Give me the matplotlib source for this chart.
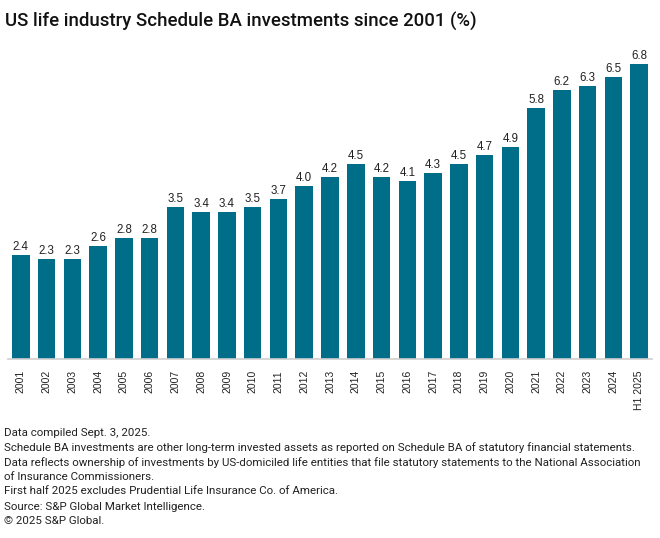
import matplotlib
matplotlib.use("Agg")
import matplotlib.pyplot as plt

years = ["2001", "2002", "2003", "2004", "2005", "2006", "2007", "2008", "2009",
         "2010", "2011", "2012", "2013", "2014", "2015", "2016", "2017", "2018",
         "2019", "2020", "2021", "2022", "2023", "2024", "H1 2025"]
values = [2.4, 2.3, 2.3, 2.6, 2.8, 2.8, 3.5, 3.4, 3.4, 3.5, 3.7, 4.0, 4.2, 4.5,
          4.2, 4.1, 4.3, 4.5, 4.7, 4.9, 5.8, 6.2, 6.3, 6.5, 6.8]

title = "US life industry Schedule BA investments since 2001 (%)"
notes = [
    "Data compiled Sept. 3, 2025.",
    "Schedule BA investments are other long-term invested assets as reported on Schedule BA of statutory financial statements.",
    "Data reflects ownership of investments by US-domiciled life entities that file statutory statements to the National Association",
    "of Insurance Commissioners.",
    "First half 2025 excludes Prudential Life Insurance Co. of America.",
    "Source: S&P Global Market Intelligence.",
    "\u00a9 2025 S&P Global.",
]
# baselines in pixels from the top
note_y = [436, 451, 466, 480, 494, 510, 524]

W, H = 660, 538
plt.rcParams["font.family"] = ["Roboto", "DejaVu Sans"]

fig = plt.figure(figsize=(W / 100, H / 100), dpi=100)
ax = fig.add_axes([8 / W, 179 / H, 644 / W, 320 / H])

x = range(len(years))
ax.bar(x, values, width=0.68, color="#006e89")
px_per_unit = 104 / 2.4
ax.set_ylim(0, 320 / px_per_unit)
for xi, v in zip(x, values):
    ax.annotate(f"{v:.1f}", (xi, v), xytext=(0, 5), textcoords="offset pixels",
                ha="center", va="baseline", fontsize=8.3, color="#222222",
                family=["Liberation Sans", "DejaVu Sans"])

ax.set_xlim(-0.5, len(years) - 0.5)
ax.set_xticks(list(x))
ax.set_xticklabels(years, rotation=90, fontsize=7.5, color="#222222",
                   family=["Liberation Sans", "DejaVu Sans"])
ax.tick_params(axis="x", length=0, pad=8)
ax.set_yticks([])
for s in ["top", "right", "left"]:
    ax.spines[s].set_visible(False)
ax.spines["bottom"].set_color("#cfcfcf")
ax.spines["bottom"].set_linewidth(1.2)

renderer = fig.canvas.get_renderer()


def fit_text(txt, x0, y_base, target_w, size, **kw):
    # place text and scale its size so it spans target_w pixels
    t = fig.text(x0 / W, 1 - y_base / H, txt, fontsize=size, va="baseline", **kw)
    w = t.get_window_extent(renderer).width
    t.set_fontsize(size * target_w / w)
    return t


fit_text(title, 5, 27, 473, 12.5, fontweight="medium", color="#111111")

ref = fit_text(notes[1], 4, note_y[1], 631, 8, color="#222222")
note_size = ref.get_fontsize()
for i, (n, yy) in enumerate(zip(notes, note_y)):
    if i == 1:
        continue
    fig.text(4 / W, 1 - yy / H, n, fontsize=note_size, va="baseline", color="#222222")

fig.savefig("out.png", dpi=100)
